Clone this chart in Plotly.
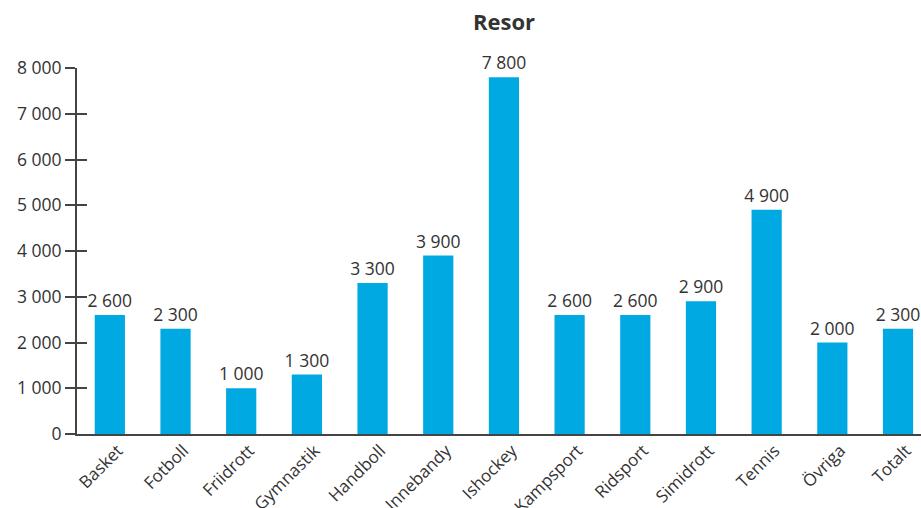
import plotly.graph_objects as go

categories = ["Basket", "Fotboll", "Friidrott", "Gymnastik", "Handboll", "Innebandy",
              "Ishockey", "Kampsport", "Ridsport", "Simidrott", "Tennis", "Övriga", "Totalt"]
values = [2600, 2300, 1000, 1300, 3300, 3900, 7800, 2600, 2600, 2900, 4900, 2000, 2300]
y_ticks = [0, 1000, 2000, 3000, 4000, 5000, 6000, 7000, 8000]

FONT = "Open Sans"
TXT = "#333333"
AX = "#444444"

fig = go.Figure()
fig.add_trace(go.Bar(
    x=categories, y=values,
    marker=dict(color="#00a9e2", line=dict(width=0)),
    texttemplate="%{y:,}", textposition="outside", cliponaxis=False,
    constraintext="none",
    textfont=dict(family=FONT, size=17.5, color=TXT),
    hoverinfo="skip",
))
# invisible trace for inside ticks on y axis
fig.add_trace(go.Scatter(x=[categories[0]], y=[0], yaxis="y2", mode="markers",
                         marker=dict(opacity=0), hoverinfo="skip", showlegend=False))

fig.update_layout(
    width=921, height=508,
    margin=dict(l=77, r=0, t=68, b=74),
    plot_bgcolor="white", paper_bgcolor="white",
    separators=", ",
    showlegend=False,
    bargap=0.54,
    title=dict(text="<b>Resor</b>", font=dict(family=FONT, size=22, color=TXT),
               x=504 / 921, xref="container", xanchor="center",
               y=1 - 22 / 508, yref="container", yanchor="middle", automargin=False),
    xaxis=dict(range=[-0.5, 12.35], showline=True, linecolor=AX, linewidth=2,
               ticks="", tickangle=-45, showgrid=False, zeroline=False, automargin=False,
               ticklabelshift=8, ticklabelstandoff=-2,
               tickfont=dict(family=FONT, size=17, color=TXT)),
    yaxis=dict(range=[0, 8000], tickvals=y_ticks, tickformat=",d",
               showline=True, linecolor=AX, linewidth=2,
               ticks="outside", ticklen=10, tickwidth=2, tickcolor=AX,
               showgrid=False, zeroline=False, automargin=False,
               tickfont=dict(family=FONT, size=17.5, color=TXT)),
    yaxis2=dict(range=[0, 8000], tickvals=y_ticks[1:], overlaying="y", side="left",
                ticks="inside", ticklen=10, tickwidth=2, tickcolor=AX, automargin=False,
                showticklabels=False, showgrid=False, zeroline=False, showline=False),
)

fig.write_html("out.html",
               config={"displayModeBar": False},
               post_script="document.body.style.margin='0';"
                           "document.documentElement.style.overflow='hidden';"
                           "document.body.style.overflow='hidden';")
